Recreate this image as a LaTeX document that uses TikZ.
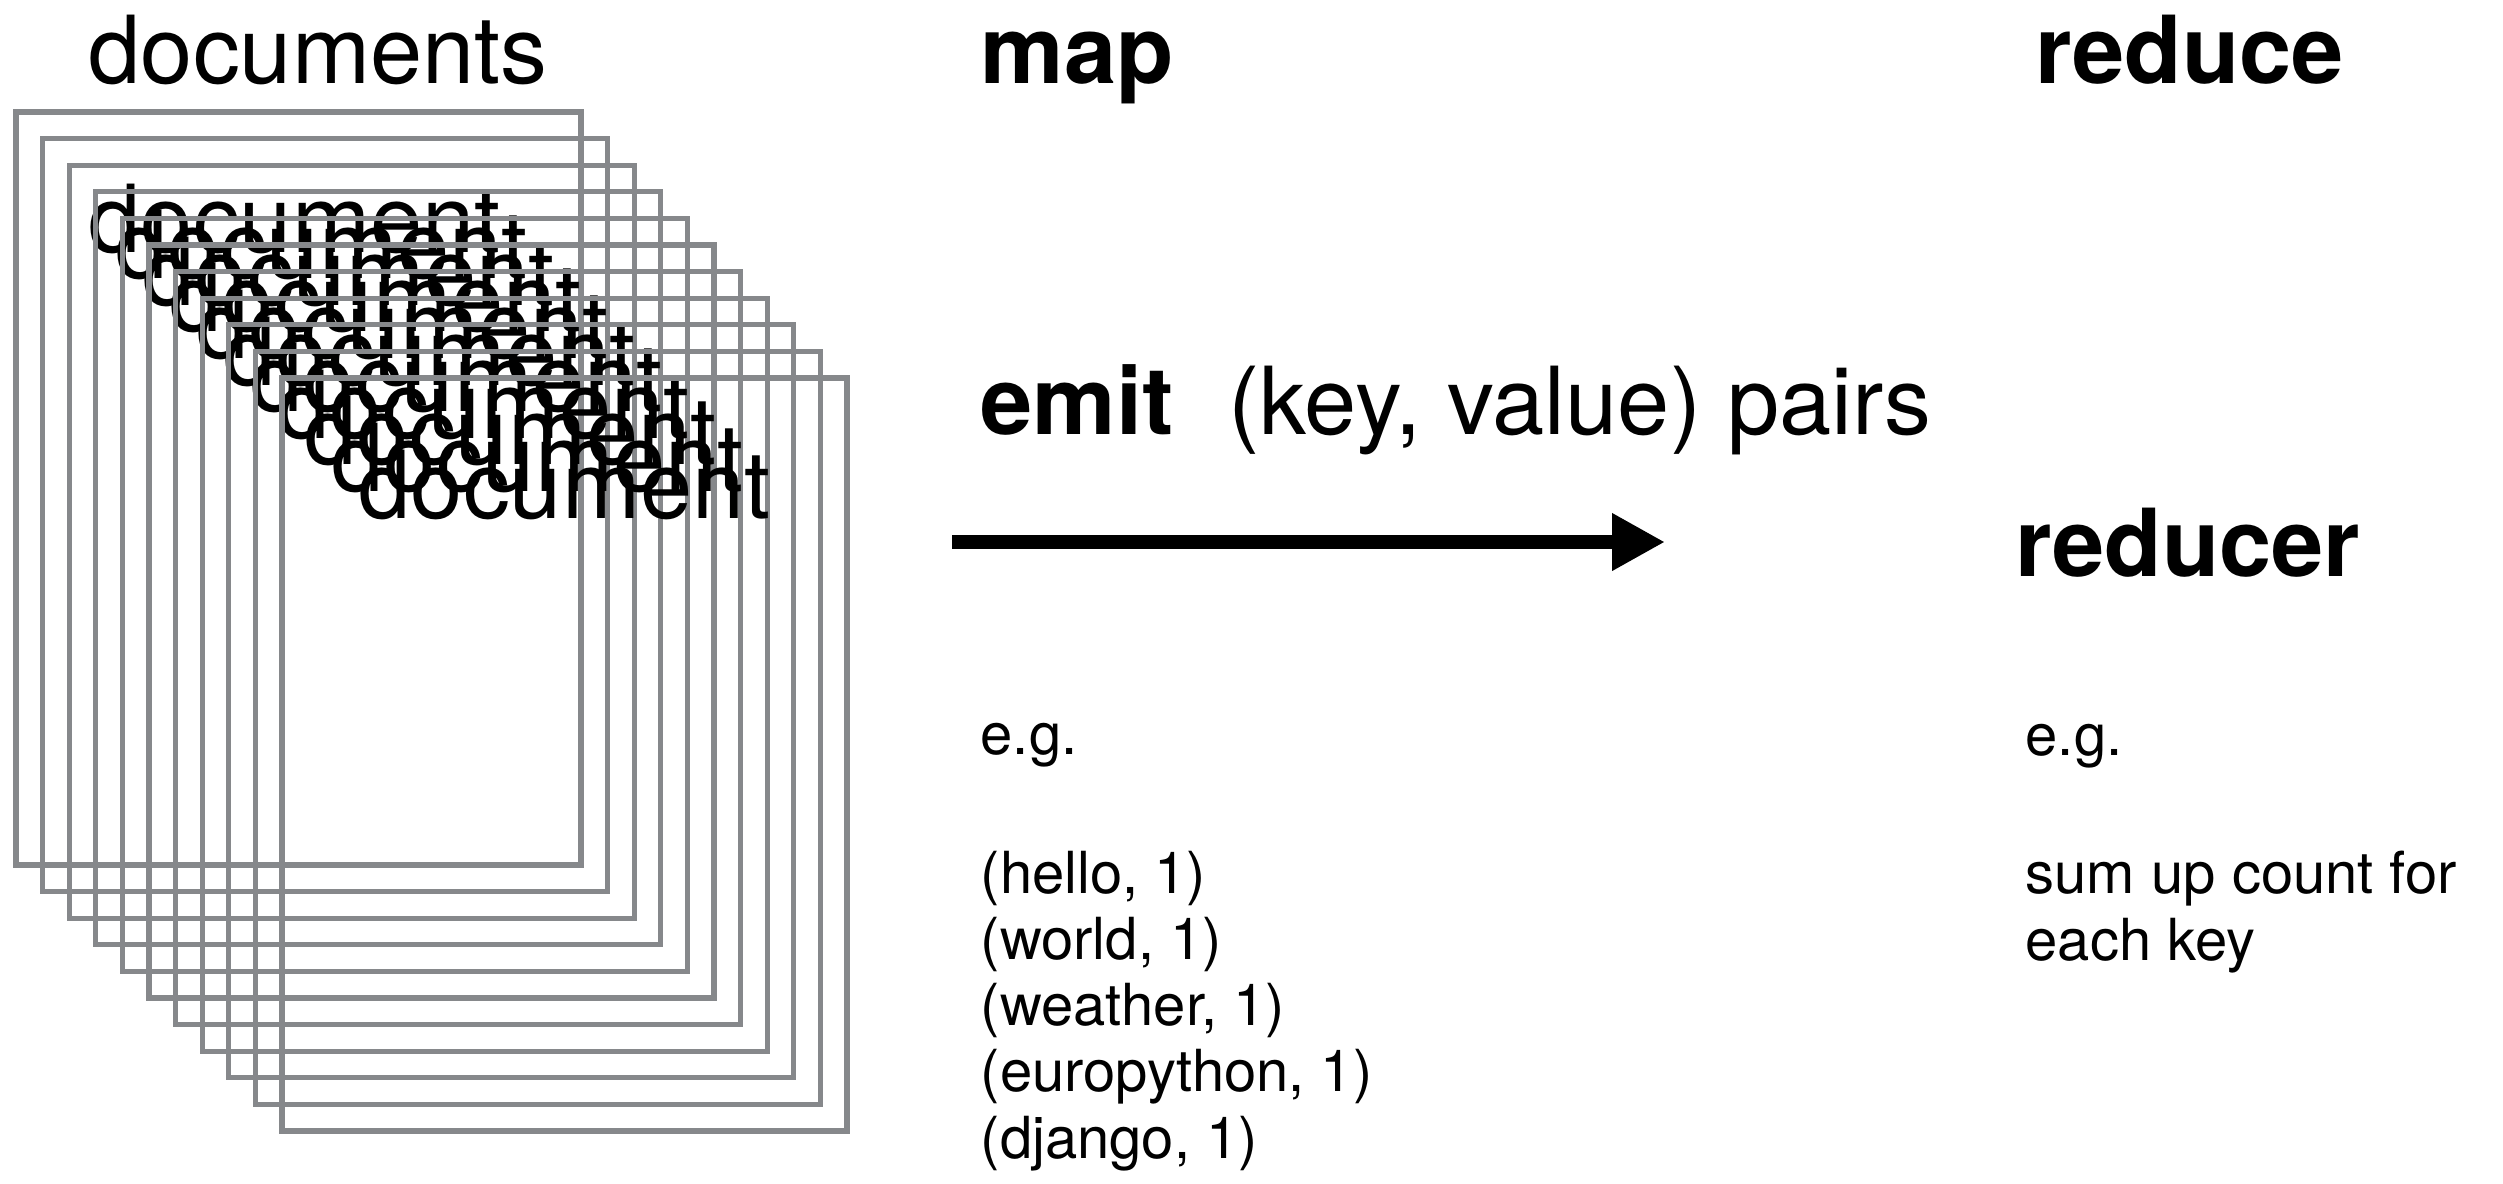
\documentclass[tikz,border=0pt]{standalone}
\usepackage{fontspec}
\setmainfont{TeX Gyre Heros}
\usetikzlibrary{arrows.meta,positioning}
\definecolor{pagegray}{HTML}{86888B}
\tikzset{
  big/.style={font=\fontsize{26.7}{30}\selectfont, inner sep=0pt, anchor=base west},
  bigbold/.style={big, font=\fontsize{26.7}{30}\selectfont\bfseries},
  small/.style={font=\fontsize{16.5}{19}\selectfont, inner sep=0pt, anchor=base west},
  page/.style={draw=pagegray, line width=1.5pt},
}

\begin{document}
\begin{tikzpicture}
\useasboundingbox (0,0) rectangle (25.03,-11.83);

\node[big] (docs) at (0.88,-0.83) {documents};

\foreach \i in {0,...,10}{
  \draw[page] ({0.16+0.266*\i},{-1.12-0.266*\i}) rectangle ++(5.65,-7.53);
  \node[big] (doc\i) at ({0.88+0.27*\i},{-2.52-0.266*\i}) {document};
}

\node[bigbold] (map) at (9.8,-0.83) {map};
\node[bigbold] (reduce) at (20.35,-0.83) {reduce};
\node[big] (emit) at (9.8,-4.34) {\textbf{emit}\hspace{0.55cm}(key, value) pairs};

\coordinate (emitstart) at (9.52,-5.42);
\coordinate (emitend) at (16.65,-5.42);
\draw[line width=4pt, -{Triangle[length=0.53cm,width=0.54cm]}] (emitstart) -- (emitend);

\node[bigbold] (reducer) at (20.15,-5.76) {reducer};

\node[small] (eg) at (9.8,-7.54) {e.g.};
\foreach \w [count=\i] in {hello,world,weather,europython,django}
  \node[small] (pair\i) at (9.8,{-8.93-0.663*(\i-1)}) {(\w, 1)};

\node[small] (egright) at (20.25,-7.55) {e.g.};
\node[small] (sumup) at (20.25,-8.93) {sum up count for};
\node[small] (eachkey) at (20.25,-9.60) {each key};
\end{tikzpicture}
\end{document}
